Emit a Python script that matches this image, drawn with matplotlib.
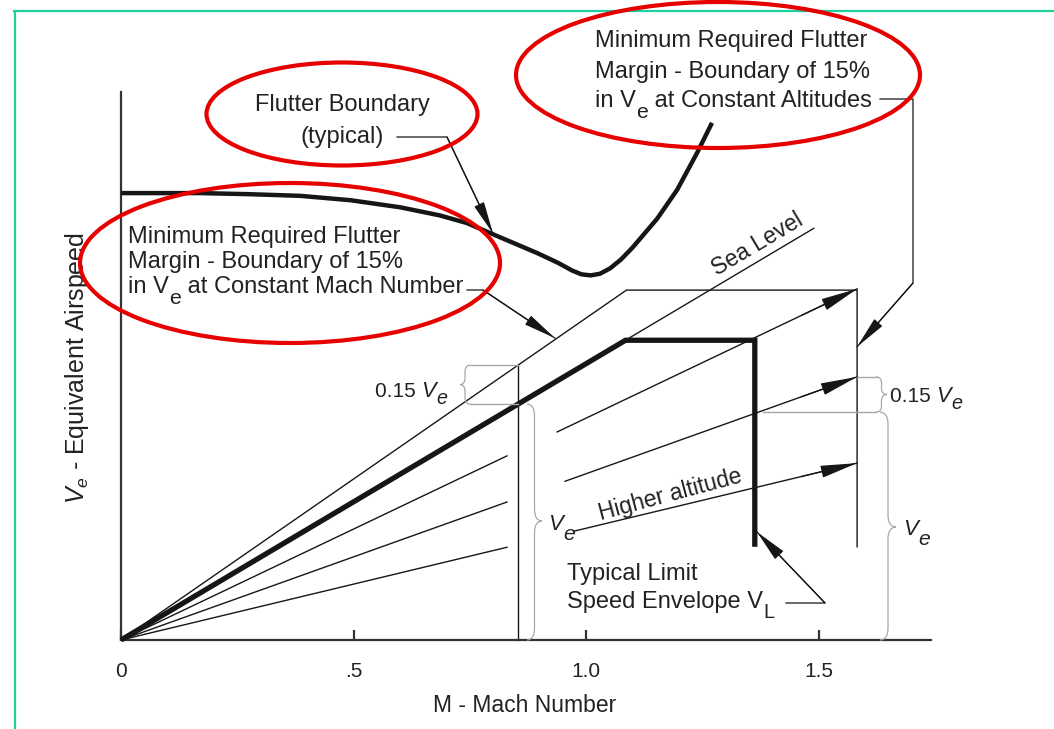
import numpy as np
import matplotlib
matplotlib.use('Agg')
import matplotlib.pyplot as plt
from matplotlib.patches import Ellipse, FancyArrowPatch, PathPatch
from matplotlib.path import Path
from matplotlib.lines import Line2D
from matplotlib.transforms import Affine2D

plt.rcParams['font.family'] = ['Liberation Sans', 'DejaVu Sans']
plt.rcParams['mathtext.fontset'] = 'custom'
plt.rcParams['mathtext.rm'] = 'Liberation Sans'
plt.rcParams['mathtext.it'] = 'Liberation Sans:italic'
plt.rcParams['mathtext.bf'] = 'Liberation Sans:bold'

# ---------------- data ----------------
mach_ticks = [0, 0.5, 1.0, 1.5]
mach_tick_labels = ['0', '.5', '1.0', '1.5']

# flutter boundary (typical)
flutter_M = [0.000, 0.170, 0.277, 0.385, 0.493, 0.600, 0.686, 0.744, 0.804,
             0.895, 0.940, 0.970, 0.990, 1.010, 1.030, 1.052, 1.075, 1.100,
             1.125, 1.153, 1.196, 1.239, 1.271]
flutter_V = [82.0, 82.0, 81.8, 81.5, 80.7, 79.4, 77.9, 76.5, 74.3,
             71.0, 69.2, 67.8, 67.1, 66.9, 67.2, 68.2, 69.8, 72.0,
             74.5, 77.3, 82.6, 89.4, 94.9]

# constant-altitude lines (Ve per unit Mach)
sea_level_slope = 50.7
sea_level_M_end = 1.49
altitude_slopes = [40.7, 30.5, 20.5]
altitude_left_M_end = 0.83
altitude_right_M_start = [0.938, 0.955, 0.974]
altitude_right_M_end = 1.583

# typical limit speed envelope V_L
envelope_M = [0.0, 1.085, 1.363, 1.363]
envelope_V = [0.0, 55.0, 55.0, 17.1]

# 15 % flutter margin boundary
margin_M = [0.0, 1.087, 1.583, 1.583]
margin_V = [0.0, 64.2, 64.2, 17.1]
const_mach_M = 0.854

# ---------------- figure ----------------
W, H = 1054, 729
fig = plt.figure(figsize=(W / 100, H / 100), dpi=100)
fig.patch.set_facecolor('white')
ax = fig.add_axes([121 / W, (H - 640) / H, 810 / W, 548 / H])
ax.set_xlim(0, 810 / 465)
ax.set_ylim(0, 548 / 5.45)
ax.set_facecolor('none')

INK = '#161616'
TXT = '#222222'
GRAY = '#a8a8a8'
RED = '#e60000'

for s in ['top', 'right']:
    ax.spines[s].set_visible(False)
for s in ['left', 'bottom']:
    ax.spines[s].set_linewidth(1.6)
    ax.spines[s].set_color('#333333')
ax.set_yticks([])
ax.set_xticks(mach_ticks)
ax.set_xticklabels(mach_tick_labels, fontsize=15, color=TXT)
ax.tick_params(axis='x', direction='in', length=7, width=1.6, color='#333333', pad=16)

P = Affine2D().scale(1, -1).translate(0, H)   # pixel coords (top-left origin)
renderer = fig.canvas.get_renderer()


def d2p(m, v):
    x, y = ax.transData.transform((m, v))
    return x, H - y


def pline(xs, ys, **kw):
    fig.add_artist(Line2D(xs, ys, transform=P, **kw))


def arrowhead(p_from, p_to, hl, hw, lw=0.9, color=INK):
    fig.add_artist(FancyArrowPatch(posA=p_from, posB=p_to, transform=P,
                                   arrowstyle=f'-|>,head_length={hl},head_width={hw}',
                                   mutation_scale=10, lw=lw, color=color,
                                   shrinkA=0, shrinkB=0))


def rich(x, y, parts, fs):
    """parts: list of (text, italic, drop_px, scale) drawn left to right on a baseline."""
    cx = x
    for txt, ital, drop, sc in parts:
        t = fig.text(cx, y + drop, txt, transform=P, fontsize=fs * sc, color=TXT,
                     ha='left', va='baseline', fontstyle='italic' if ital else 'normal')
        cx += t.get_window_extent(renderer).width


def brace(x0, y0, y1, ym, w, color=GRAY, lw=0.9):
    xm = x0 + w / 2.0
    r = min(abs(y1 - y0) * 0.18, 12)
    verts = [(x0, y0), (xm, y0), (xm, y0 + r),
             (xm, ym - r),
             (xm, ym), (x0 + w, ym),
             (xm, ym), (xm, ym + r),
             (xm, y1 - r),
             (xm, y1), (x0, y1)]
    codes = [Path.MOVETO, Path.CURVE3, Path.CURVE3,
             Path.LINETO,
             Path.CURVE3, Path.CURVE3,
             Path.CURVE3, Path.CURVE3,
             Path.LINETO,
             Path.CURVE3, Path.CURVE3]
    fig.add_artist(PathPatch(Path(verts, codes), transform=P, fill=False,
                             edgecolor=color, lw=lw))


# ---------------- data marks ----------------
ax.plot(flutter_M, flutter_V, color=INK, lw=3.2, solid_joinstyle='round',
        solid_capstyle='butt', clip_on=False, zorder=4)

ax.plot([0, sea_level_M_end], [0, sea_level_slope * sea_level_M_end],
        color=INK, lw=1.0, clip_on=False)

for s, m0 in zip(altitude_slopes, altitude_right_M_start):
    ax.plot([0, altitude_left_M_end], [0, s * altitude_left_M_end],
            color=INK, lw=1.0, clip_on=False)
    ax.plot([m0, altitude_right_M_end], [s * m0, s * altitude_right_M_end],
            color=INK, lw=1.0, clip_on=False)
    tip = d2p(altitude_right_M_end, s * altitude_right_M_end)
    back = d2p(altitude_right_M_end - 0.12, s * (altitude_right_M_end - 0.12))
    arrowhead(back, tip, 2.3, 0.38)

ax.plot(margin_M, margin_V, color=INK, lw=1.0, clip_on=False)
margin_slope = margin_V[1] / margin_M[1]
ax.plot([const_mach_M, const_mach_M], [0, margin_slope * const_mach_M],
        color=INK, lw=1.0, clip_on=False)

ax.plot(envelope_M, envelope_V, color=INK, lw=3.8, solid_joinstyle='miter',
        solid_capstyle='butt', clip_on=False, zorder=5)

# ---------------- 0.15 Ve / Ve braces ----------------
env_slope = envelope_V[1] / envelope_M[1]
xl, yl_top = d2p(const_mach_M, margin_slope * const_mach_M)
_, yl_bot = d2p(const_mach_M, env_slope * const_mach_M)
pline([470, xl], [yl_top, yl_top], color=GRAY, lw=1.0)
pline([470, xl], [yl_bot, yl_bot], color=GRAY, lw=1.0)
brace(470, yl_top, yl_bot, (yl_top + yl_bot) / 2, -10)
brace(527, yl_bot, 640, 521, 15)

vB = altitude_slopes[1] * altitude_right_M_end
xr, yr_top = d2p(altitude_right_M_end, vB)
_, yr_bot = d2p(altitude_right_M_end, vB / 1.155)
pline([xr, 876], [yr_top, yr_top], color=GRAY, lw=1.0)
pline([763, 876], [yr_bot, yr_bot], color=GRAY, lw=1.0)
brace(876, yr_top, yr_bot, (yr_top + yr_bot) / 2, 11)
brace(880, yr_bot, 640, 527, 16)

rich(375, 397, [('0.15 ', False, 0, 1), ('V', True, 0, 1.05), ('e', True, 7, 0.95)], 15)
rich(890, 402, [('0.15 ', False, 0, 1), ('V', True, 0, 1.05), ('e', True, 7, 0.95)], 15)
rich(548, 530, [('V', True, 0, 1), ('e', True, 10, 0.95)], 16)
rich(903, 535, [('V', True, 0, 1), ('e', True, 10, 0.95)], 16)

# ---------------- labels on lines ----------------
p0 = d2p(0, 0)
p1 = d2p(sea_level_M_end, sea_level_slope * sea_level_M_end)
ang_sea = np.degrees(np.arctan2(p0[1] - p1[1], p1[0] - p0[0]))
fig.text(757, 244, 'Sea Level', transform=P, fontsize=16.5, color=TXT,
         rotation=ang_sea, rotation_mode='anchor', ha='center', va='center')
fig.text(670, 495, 'Higher altitude', transform=P, fontsize=16.5, color=TXT,
         rotation=15, rotation_mode='anchor', ha='center', va='center')

# ---------------- annotation texts ----------------
fig.text(128, 243, 'Minimum Required Flutter', transform=P, fontsize=17, color=TXT,
         ha='left', va='baseline')
fig.text(128, 268, 'Margin - Boundary of 15%', transform=P, fontsize=17, color=TXT,
         ha='left', va='baseline')
rich(128, 293, [('in V', False, 0, 1), ('e', False, 11, 0.9),
                (' at Constant Mach Number', False, 0, 1)], 17)

fig.text(595, 47, 'Minimum Required Flutter', transform=P, fontsize=17, color=TXT,
         ha='left', va='baseline')
fig.text(595, 78, 'Margin - Boundary of 15%', transform=P, fontsize=17, color=TXT,
         ha='left', va='baseline')
rich(595, 107, [('in V', False, 0, 1), ('e', False, 11, 0.9),
                (' at Constant Altitudes', False, 0, 1)], 17)

fig.text(342, 111, 'Flutter Boundary', transform=P, fontsize=17, color=TXT,
         ha='center', va='baseline')
fig.text(342, 143, '(typical)', transform=P, fontsize=17, color=TXT,
         ha='center', va='baseline')
fig.text(567, 580, 'Typical Limit', transform=P, fontsize=17, color=TXT,
         ha='left', va='baseline')
rich(567, 608, [('Speed Envelope V', False, 0, 1), ('L', False, 10, 0.85)], 17)

# axis titles
fig.text(525, 706, 'M - Mach Number', transform=P, fontsize=16.5, color=TXT,
         ha='center', va='center')
fig.text(77, 368, r'$V_e$ - Equivalent Airspeed', transform=P, fontsize=18,
         color=TXT, ha='center', va='center', rotation=90)

# ---------------- leader lines ----------------
tip = d2p(0.800, 74.6)
pline([397, 447, tip[0]], [137, 137, tip[1]], color=INK, lw=0.9)
arrowhead((447, 137), tip, 2.0, 0.33)
tip = d2p(0.933, margin_slope * 0.933 + 0.3)
pline([467, 483, tip[0]], [290, 290, tip[1]], color=INK, lw=0.9)
arrowhead((483, 290), tip, 2.0, 0.33)
tip = d2p(altitude_right_M_end, 53.8)
pline([880, 913, 913, tip[0]], [99, 99, 283, tip[1]], color=INK, lw=0.9)
arrowhead((913, 283), tip, 2.0, 0.33)
tip = d2p(envelope_M[2] + 0.005, 19.8)
pline([786, 825, tip[0]], [603, 603, tip[1]], color=INK, lw=0.9)
arrowhead((825, 603), tip, 2.0, 0.36)

# ---------------- red highlight ellipses ----------------
for (cx, cy, w, h) in [(342, 114, 271, 103), (718, 75, 404, 146), (290, 263, 420, 160)]:
    fig.add_artist(Ellipse((cx, cy), w, h, transform=P, fill=False,
                           edgecolor=RED, lw=3.0, zorder=10))

# ---------------- teal frame ----------------
pline([14, W], [10.5, 10.5], color='#1fcf9f', lw=1.6)
pline([15, 15], [10.5, H], color='#1fcf9f', lw=1.6)

fig.savefig('out.png', dpi=100, facecolor='white')
